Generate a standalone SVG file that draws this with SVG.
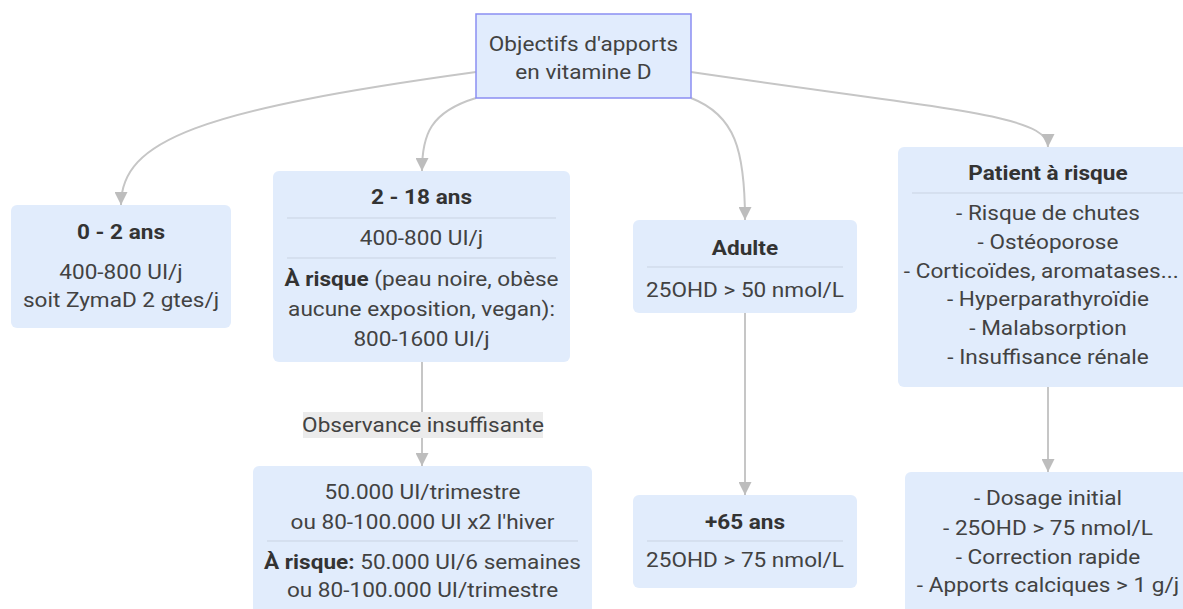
<svg xmlns="http://www.w3.org/2000/svg" width="1183" height="609" viewBox="0 0 1183 609">
<style>
  .box{fill:#e1ecfc;}
  .root{fill:#e1ecfd;stroke:#8b8ef2;stroke-width:1.5;}
  .sep{stroke:#c9d3e2;stroke-width:1;}
  text{font-family:Roboto,"Liberation Sans",sans-serif;font-size:20px;fill:#424242;text-anchor:middle;}
  .t{font-weight:bold;fill:#333;}
  .b{font-weight:bold;fill:#333;}
  .edge{fill:none;stroke:#c6c6c6;stroke-width:2;}
  .lbl{fill:#ebebeb;}
</style>
<defs>
  <marker id="arr" markerUnits="userSpaceOnUse" markerWidth="14" markerHeight="13" refX="13" refY="6.5" orient="auto">
    <path d="M0,0 L13,6.5 L0,13 z" fill="#bdbdbd"/>
  </marker>
</defs>
<rect width="1183" height="609" fill="#ffffff"/>
<g id="connectors">
  <path class="edge" d="M476,72 C200,110 121,140 121,205" marker-end="url(#arr)"/>
  <path class="edge" d="M476,98 C430,112 422,135 422,171" marker-end="url(#arr)"/>
  <path class="edge" d="M691,98 C735,115 745,150 745,220" marker-end="url(#arr)"/>
  <path class="edge" d="M691,72 C950,110 1048,115 1048,147" marker-end="url(#arr)"/>
  <path class="edge" d="M422,362 L422,466" marker-end="url(#arr)"/>
  <path class="edge" d="M745,313 L745,495" marker-end="url(#arr)"/>
  <path class="edge" d="M1048,387 L1048,472" marker-end="url(#arr)"/>
  <g id="label-observance">
    <rect class="lbl" x="303" y="412" width="240" height="26"/>
    <g transform="matrix(1.13 0 0 1 423 0)"><text x="0" y="432">Observance insuffisante</text></g>
  </g>
</g>
<g id="root">
  <rect class="root" x="476" y="14" width="215" height="84"/>
  <g transform="matrix(1.13 0 0 1 583.5 0)">
    <text x="0" y="51">Objectifs d'apports</text>
    <text x="0" y="79">en vitamine D</text>
  </g>
</g>
<g id="n-0-2">
  <rect class="box" x="11" y="205" width="220" height="123" rx="6"/>
  <g transform="matrix(1.13 0 0 1 121 0)">
    <text class="t" x="0" y="239">0 - 2 ans</text>
    <text x="0" y="279">400-800 UI/j</text>
    <text x="0" y="307">soit ZymaD 2 gtes/j</text>
  </g>
</g>
<g id="n-2-18">
  <rect class="box" x="273" y="171" width="297" height="191" rx="6"/>
  <line class="sep" x1="287" y1="218" x2="556" y2="218"/>
  <line class="sep" x1="287" y1="258" x2="556" y2="258"/>
  <g transform="matrix(1.13 0 0 1 421.5 0)">
    <text class="t" x="0" y="204">2 - 18 ans</text>
    <text x="0" y="245">400-800 UI/j</text>
    <text x="0" y="286"><tspan class="b">À risque</tspan> (peau noire, obèse</text>
    <text x="0" y="316">aucune exposition, vegan):</text>
    <text x="0" y="346">800-1600 UI/j</text>
  </g>
</g>
<g id="n-adulte">
  <rect class="box" x="633" y="220" width="224" height="93" rx="6"/>
  <line class="sep" x1="647" y1="267" x2="843" y2="267"/>
  <g transform="matrix(1.13 0 0 1 745 0)">
    <text class="t" x="0" y="255">Adulte</text>
    <text x="0" y="297">25OHD &gt; 50 nmol/L</text>
  </g>
</g>
<g id="n-patient">
  <rect class="box" x="898" y="147" width="300" height="240" rx="6"/>
  <line class="sep" x1="912" y1="193" x2="1184" y2="193"/>
  <g transform="matrix(1.13 0 0 1 1048 0)">
    <text class="t" x="0" y="180">Patient à risque</text>
    <text x="0" y="220">- Risque de chutes</text>
    <text x="0" y="249">- Ostéoporose</text>
    <text x="-6" y="278">- Corticoïdes, aromatases...</text>
    <text x="0" y="306">- Hyperparathyroïdie</text>
    <text x="0" y="335">- Malabsorption</text>
    <text x="0" y="364">- Insuffisance rénale</text>
  </g>
</g>
<g id="n-observance">
  <rect class="box" x="253" y="466" width="339" height="160" rx="6"/>
  <line class="sep" x1="267" y1="541" x2="578" y2="541"/>
  <g transform="matrix(1.13 0 0 1 422.5 0)">
    <text x="0" y="499">50.000 UI/trimestre</text>
    <text x="0" y="529">ou 80-100.000 UI x2 l'hiver</text>
    <text x="0" y="569"><tspan class="b">À risque:</tspan> 50.000 UI/6 semaines</text>
    <text x="0" y="597">ou 80-100.000 UI/trimestre</text>
  </g>
</g>
<g id="n-65">
  <rect class="box" x="633" y="495" width="224" height="93" rx="6"/>
  <line class="sep" x1="647" y1="541" x2="843" y2="541"/>
  <g transform="matrix(1.13 0 0 1 745 0)">
    <text class="t" x="0" y="529">+65 ans</text>
    <text x="0" y="567">25OHD &gt; 75 nmol/L</text>
  </g>
</g>
<g id="n-suivi">
  <rect class="box" x="905" y="472" width="286" height="160" rx="6"/>
  <g transform="matrix(1.13 0 0 1 1048 0)">
    <text x="0" y="505">- Dosage initial</text>
    <text x="0" y="535">- 25OHD &gt; 75 nmol/L</text>
    <text x="0" y="564">- Correction rapide</text>
    <text x="0" y="592">- Apports calciques &gt; 1 g/j</text>
  </g>
</g>
</svg>
